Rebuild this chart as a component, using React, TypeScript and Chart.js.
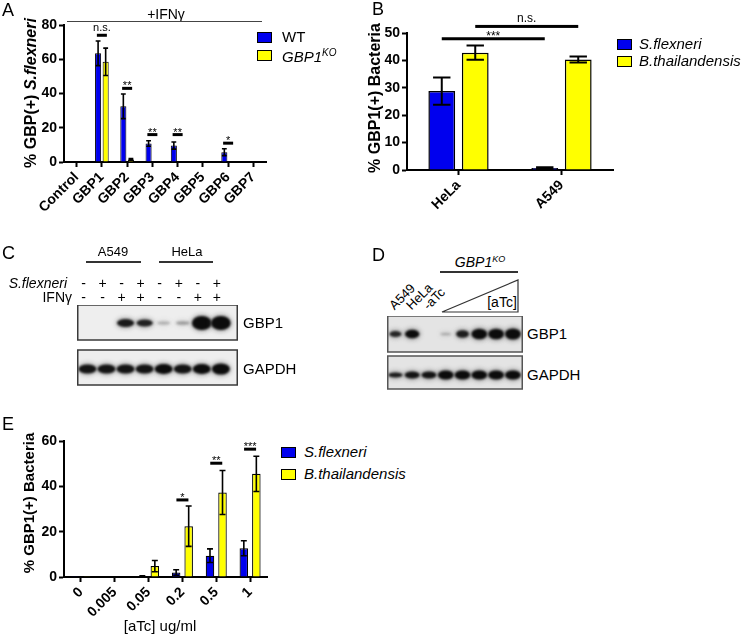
import React, { useEffect, useRef } from 'react';
import { Chart, registerables } from 'chart.js';

Chart.register(...registerables);

const FONT = '"Liberation Sans", Arial, Helvetica, sans-serif';
const BLUE = '#0000ee';
const YELLOW = '#ffff00';

// ---------- Panel A ----------
const A_CATEGORIES = ['Control', 'GBP1', 'GBP2', 'GBP3', 'GBP4', 'GBP5', 'GBP6', 'GBP7'];
const A_WT = [0, 63.5, 32.5, 10.8, 9.6, 0, 5.7, 0];
const A_WT_ERR = [0, 7.2, 7.2, 1.6, 2.1, 0, 2.0, 0];
const A_KO = [0, 58.5, 1.5, 0, 0.3, 0, 0, 0];
const A_KO_ERR = [0, 8, 0.5, 0, 0, 0, 0, 0];
const A_Y_TICKS = [0, 20, 40, 60, 80];
const A_SIG_CATEGORY = ['GBP1', 'GBP2', 'GBP3', 'GBP4', 'GBP6'];
const A_SIG_LEVEL = [74, 43, 16, 16, 11];
const A_SIG_TEXT = ['n.s.', '**', '**', '**', '*'];

// ---------- Panel B ----------
const B_CATEGORIES = ['HeLa', 'A549'];
const B_SFLEX = [28.8, 0.7];
const B_SFLEX_ERR = [5, 0.3];
const B_BTHAI = [42.8, 40.3];
const B_BTHAI_ERR = [2.6, 1.1];
const B_Y_TICKS = [0, 10, 20, 30, 40, 50];
const B_SIG_SERIES = [0, 1];
const B_SIG_FROM = ['HeLa', 'HeLa'];
const B_SIG_TO = ['A549', 'A549'];
const B_SIG_LEVEL = [47.9, 52.4];
const B_SIG_TEXT = ['***', 'n.s.'];

// ---------- Panel C (western blot) ----------
const C_SFLEX_SIGNS = ['-', '+', '-', '+', '-', '+', '-', '+'];
const C_IFN_SIGNS = ['-', '-', '+', '+', '-', '-', '+', '+'];
const C_GBP1_INTENSITY = [0, 0, 0.92, 0.88, 0.22, 0.28, 1, 1];
const C_GBP1_THICKNESS = [0, 0, 8, 7, 3.5, 4, 14, 14];
const C_GBP1_SPREAD = [1, 1, 1, 0.95, 0.75, 0.8, 1.15, 1.15];
const C_GAPDH_INTENSITY = [0.95, 0.95, 0.95, 0.95, 1, 0.95, 1, 1];
const C_GAPDH_THICKNESS = [9, 9, 9, 9, 10, 9, 10, 11];
const C_GAPDH_SPREAD = [1.05, 1.05, 1.05, 1.05, 1.05, 1.05, 1.05, 1.05];

// ---------- Panel D (western blot) ----------
const D_LANE_LABELS = ['A549', 'HeLa', '-aTc'];
const D_GBP1_INTENSITY = [0.85, 1, 0, 0.2, 0.9, 1, 1, 1];
const D_GBP1_THICKNESS = [6, 8.5, 0, 3, 7.5, 10.5, 10.5, 11];
const D_GBP1_SPREAD = [0.8, 0.95, 0, 0.7, 0.85, 1.05, 1.05, 1.05];
const D_GAPDH_INTENSITY = [0.9, 0.95, 0.95, 1, 1, 1, 1, 1];
const D_GAPDH_THICKNESS = [5, 7, 7, 9, 9, 9, 9, 9];
const D_GAPDH_SPREAD = [0.95, 1, 1, 1.05, 1.05, 1.05, 1.05, 1.05];

// ---------- Panel E ----------
const E_CATEGORIES = ['0', '0.005', '0.05', '0.2', '0.5', '1'];
const E_SFLEX = [0.1, 0, 0.3, 2, 9.4, 12.7];
const E_SFLEX_ERR = [0, 0, 0.2, 1.2, 3, 3.3];
const E_BTHAI = [0.1, 0.2, 4.8, 22.4, 37.3, 45.5];
const E_BTHAI_ERR = [0, 0, 2.5, 8.9, 9.7, 7.8];
const E_Y_TICKS = [0, 20, 40, 60];
const E_SIG_CATEGORY = ['0.2', '0.5', '1'];
const E_SIG_LEVEL = [34, 50.2, 56.4];
const E_SIG_TEXT = ['*', '**', '***'];

type Mark = { x1: number; x2: number; y: number; text: string };
type Series = { data: number[]; err: number[]; color: string };
type BarCfg = {
  labels: string[];
  series: Series[];
  yMin: number;
  yMax: number;
  yTicks: number[];
  pad: { left: number; top: number; right: number; bottom: number };
  yWidth: number;
  xHeight: number;
  cp: number;
  bp: number;
  capRatio: number;
  errWidth: number;
  borderWidth: number;
  sigFont: number;
  sigThick: number;
  marks: (chart: any) => Mark[];
};

function makeBarChart(canvas: HTMLCanvasElement, cfg: BarCfg) {
  const overlay = {
    id: 'overlay',
    afterDatasetsDraw(chart: any) {
      const ctx = chart.ctx;
      const ys = chart.scales.y;
      ctx.save();
      ctx.strokeStyle = '#000';
      ctx.lineWidth = cfg.errWidth;
      cfg.series.forEach((s, di) => {
        const meta = chart.getDatasetMeta(di);
        meta.data.forEach((bar: any, i: number) => {
          const e = s.err[i];
          if (!e) return;
          const v = s.data[i];
          const yt = ys.getPixelForValue(v + e);
          const yb = ys.getPixelForValue(Math.max(0, v - e));
          const half = (bar.width * cfg.capRatio) / 2;
          ctx.beginPath();
          ctx.moveTo(bar.x, yt);
          ctx.lineTo(bar.x, yb);
          ctx.moveTo(bar.x - half, yt);
          ctx.lineTo(bar.x + half, yt);
          ctx.moveTo(bar.x - half, yb);
          ctx.lineTo(bar.x + half, yb);
          ctx.stroke();
        });
      });
      ctx.fillStyle = '#000';
      ctx.textAlign = 'center';
      ctx.textBaseline = 'alphabetic';
      cfg.marks(chart).forEach((m) => {
        const t = cfg.sigThick;
        ctx.fillRect(m.x1, m.y - t / 2, m.x2 - m.x1, t);
        const star = m.text.includes('*');
        ctx.font = `${cfg.sigFont}px ${FONT}`;
        ctx.fillText(m.text, (m.x1 + m.x2) / 2, star ? m.y + 1 : m.y - t / 2 - 2.5);
      });
      ctx.restore();
    },
  };
  const tickFont = { family: FONT, size: 14, weight: 'bold' as const };
  return new Chart(canvas, {
    type: 'bar',
    data: {
      labels: cfg.labels,
      datasets: cfg.series.map((s) => ({
        data: s.data,
        backgroundColor: s.color,
        borderColor: '#000',
        borderWidth: cfg.borderWidth,
        categoryPercentage: cfg.cp,
        barPercentage: cfg.bp,
      })),
    },
    options: {
      responsive: false,
      animation: false,
      events: [],
      layout: { padding: cfg.pad },
      plugins: { legend: { display: false }, tooltip: { enabled: false } },
      scales: {
        x: {
          type: 'category',
          offset: true,
          grid: {
            display: true,
            drawOnChartArea: false,
            drawTicks: true,
            tickLength: 5,
            tickWidth: 2,
            tickColor: '#000',
            offset: false,
          },
          border: { display: true, color: '#000', width: 2 },
          ticks: {
            color: '#000',
            font: tickFont,
            minRotation: 45,
            maxRotation: 45,
            autoSkip: false,
            padding: 2,
          },
          afterFit: (s: any) => {
            s.height = cfg.xHeight;
          },
        },
        y: {
          type: 'linear',
          min: cfg.yMin,
          max: cfg.yMax,
          grid: {
            display: true,
            drawOnChartArea: false,
            drawTicks: true,
            tickLength: 5,
            tickWidth: 2,
            tickColor: '#000',
          },
          border: { display: true, color: '#000', width: 2 },
          ticks: { color: '#000', font: tickFont, padding: 2 },
          afterBuildTicks: (s: any) => {
            s.ticks = cfg.yTicks.map((v) => ({ value: v }));
          },
          afterFit: (s: any) => {
            s.width = cfg.yWidth;
          },
        },
      },
    },
    plugins: [overlay],
  } as any);
}

type BlotRow = {
  top: number;
  bottom: number;
  center: number;
  intensity: number[];
  thickness: number[];
  spread: number[];
};
type BlotCfg = { xMin: number; xMax: number; height: number; rows: BlotRow[]; bg: string; border: string };

function makeBlotChart(canvas: HTMLCanvasElement, cfg: BlotCfg) {
  const blot = {
    id: 'blot',
    beforeDatasetsDraw(chart: any) {
      const ctx = chart.ctx;
      const xs = chart.scales.x;
      const ys = chart.scales.y;
      const laneW = xs.getPixelForValue(1) - xs.getPixelForValue(0);
      cfg.rows.forEach((r, ri) => {
        const x0 = chart.chartArea.left + 0.75;
        const x1 = chart.chartArea.right - 0.75;
        const y0 = ys.getPixelForValue(r.top);
        const y1 = ys.getPixelForValue(r.bottom);
        ctx.save();
        ctx.fillStyle = cfg.bg;
        ctx.fillRect(x0, y0, x1 - x0, y1 - y0);
        ctx.beginPath();
        ctx.rect(x0, y0, x1 - x0, y1 - y0);
        ctx.clip();
        const meta = chart.getDatasetMeta(ri);
        meta.data.forEach((pt: any, i: number) => {
          const a = r.intensity[i];
          if (!a) return;
          const rx = laneW * 0.45 * r.spread[i];
          const ry = r.thickness[i] / 2;
          ctx.filter = 'blur(2px)';
          ctx.fillStyle = `rgba(60,60,60,${a * 0.35})`;
          ctx.beginPath();
          ctx.ellipse(pt.x, pt.y, rx + 1.5, ry + 2, 0, 0, Math.PI * 2);
          ctx.fill();
          ctx.filter = 'blur(0.8px)';
          ctx.fillStyle = `rgba(12,12,12,${a})`;
          ctx.beginPath();
          ctx.ellipse(pt.x, pt.y, rx, ry, 0, 0, Math.PI * 2);
          ctx.fill();
        });
        ctx.restore();
        ctx.save();
        ctx.strokeStyle = cfg.border;
        ctx.lineWidth = 1.5;
        ctx.strokeRect(x0, y0, x1 - x0, y1 - y0);
        ctx.restore();
      });
    },
  };
  return new Chart(canvas, {
    type: 'scatter',
    data: {
      datasets: cfg.rows.map((r) => ({
        data: r.intensity.map((_, i) => ({ x: i, y: r.center })),
        pointRadius: 0,
      })),
    },
    options: {
      responsive: false,
      animation: false,
      events: [],
      layout: { padding: 0 },
      plugins: { legend: { display: false }, tooltip: { enabled: false } },
      scales: {
        x: { type: 'linear', display: false, min: cfg.xMin, max: cfg.xMax },
        y: { type: 'linear', display: false, min: 0, max: cfg.height, reverse: true },
      },
    },
    plugins: [blot],
  } as any);
}

function ChartBox({ left, top, width, height, build }: { left: number; top: number; width: number; height: number; build: (c: HTMLCanvasElement) => Chart }) {
  const ref = useRef<HTMLCanvasElement>(null);
  useEffect(() => {
    const chart = build(ref.current as HTMLCanvasElement);
    return () => chart.destroy();
  }, []);
  return (
    <div style={{ position: 'absolute', left, top, width, height }}>
      <canvas ref={ref} width={width} height={height} style={{ width, height, display: 'block' }} />
    </div>
  );
}

function T({ x, y, size = 14, bold = false, italic = false, align = 'center', rotate = 0, children }: any) {
  const tx = align === 'left' ? '0' : align === 'right' ? '-100%' : '-50%';
  const origin = align === 'left' ? '0 50%' : align === 'right' ? '100% 50%' : '50% 50%';
  return (
    <div
      style={{
        position: 'absolute',
        left: x,
        top: y,
        fontSize: size,
        fontWeight: bold ? 'bold' : 'normal',
        fontStyle: italic ? 'italic' : 'normal',
        lineHeight: 1.15,
        whiteSpace: 'nowrap',
        transform: `translate(${tx},-50%)${rotate ? ` rotate(${rotate}deg)` : ''}`,
        transformOrigin: origin,
      }}
    >
      {children}
    </div>
  );
}

function HLine({ x1, x2, y, w = 1.2, color = '#333' }: any) {
  return <div style={{ position: 'absolute', left: x1, top: y - w / 2, width: x2 - x1, height: w, background: color }} />;
}

function Swatch({ x, y, w, h, color }: any) {
  return <div style={{ position: 'absolute', left: x, top: y - h / 2, width: w, height: h, background: color, border: '1.5px solid #000', boxSizing: 'border-box' }} />;
}

const catIndex = (cats: string[], c: string) => cats.indexOf(c);

const buildA = (c: HTMLCanvasElement) =>
  makeBarChart(c, {
    labels: A_CATEGORIES,
    series: [
      { data: A_WT, err: A_WT_ERR, color: BLUE },
      { data: A_KO, err: A_KO_ERR, color: YELLOW },
    ],
    yMin: 0,
    yMax: 80,
    yTicks: A_Y_TICKS,
    pad: { left: 0, top: 25, right: 9, bottom: 0 },
    yWidth: 64,
    xHeight: 83,
    cp: 0.6,
    bp: 0.8,
    capRatio: 0.8,
    errWidth: 1.6,
    borderWidth: 1,
    sigFont: 11,
    sigThick: 3,
    marks: (chart: any) =>
      A_SIG_CATEGORY.map((cat, k) => {
        const cx = chart.scales.x.getPixelForValue(catIndex(A_CATEGORIES, cat));
        return { x1: cx - 5, x2: cx + 5, y: chart.scales.y.getPixelForValue(A_SIG_LEVEL[k]), text: A_SIG_TEXT[k] };
      }),
  });

const buildB = (c: HTMLCanvasElement) =>
  makeBarChart(c, {
    labels: B_CATEGORIES,
    series: [
      { data: B_SFLEX, err: B_SFLEX_ERR, color: BLUE },
      { data: B_BTHAI, err: B_BTHAI_ERR, color: YELLOW },
    ],
    yMin: 0,
    yMax: 50,
    yTicks: B_Y_TICKS,
    pad: { left: 0, top: 33, right: 9, bottom: 0 },
    yWidth: 35,
    xHeight: 45,
    cp: 0.65,
    bp: 0.8,
    capRatio: 0.65,
    errWidth: 2,
    borderWidth: 1.5,
    sigFont: 12,
    sigThick: 3,
    marks: (chart: any) =>
      B_SIG_SERIES.map((si, k) => {
        const meta = chart.getDatasetMeta(si);
        const a = meta.data[catIndex(B_CATEGORIES, B_SIG_FROM[k])].x;
        const b = meta.data[catIndex(B_CATEGORIES, B_SIG_TO[k])].x;
        return { x1: a, x2: b, y: chart.scales.y.getPixelForValue(B_SIG_LEVEL[k]), text: B_SIG_TEXT[k] };
      }),
  });

const buildE = (c: HTMLCanvasElement) =>
  makeBarChart(c, {
    labels: E_CATEGORIES,
    series: [
      { data: E_SFLEX, err: E_SFLEX_ERR, color: BLUE },
      { data: E_BTHAI, err: E_BTHAI_ERR, color: YELLOW },
    ],
    yMin: 0,
    yMax: 60,
    yTicks: E_Y_TICKS,
    pad: { left: 0, top: 21, right: 13, bottom: 0 },
    yWidth: 64,
    xHeight: 58,
    cp: 0.74,
    bp: 0.68,
    capRatio: 0.7,
    errWidth: 1.6,
    borderWidth: 1.2,
    sigFont: 11,
    sigThick: 3,
    marks: (chart: any) =>
      E_SIG_CATEGORY.map((cat, k) => {
        const cx = chart.scales.x.getPixelForValue(catIndex(E_CATEGORIES, cat));
        return { x1: cx - 6, x2: cx + 6, y: chart.scales.y.getPixelForValue(E_SIG_LEVEL[k]), text: E_SIG_TEXT[k] };
      }),
  });

// blot geometry (C)
const C_LEFT = 77;
const C_TOP = 305;
const C_W = 161;
const C_H = 81;
const C_XMIN = -0.55;
const C_XMAX = 7.9;
const cLaneX = (i: number) => C_LEFT + ((i - C_XMIN) * C_W) / (C_XMAX - C_XMIN);

const buildC = (c: HTMLCanvasElement) =>
  makeBlotChart(c, {
    xMin: C_XMIN,
    xMax: C_XMAX,
    height: C_H,
    bg: '#eeeeee',
    border: '#3a3a3a',
    rows: [
      { top: 0, bottom: 35, center: 18, intensity: C_GBP1_INTENSITY, thickness: C_GBP1_THICKNESS, spread: C_GBP1_SPREAD },
      { top: 45, bottom: 80, center: 64, intensity: C_GAPDH_INTENSITY, thickness: C_GAPDH_THICKNESS, spread: C_GAPDH_SPREAD },
    ],
  });

// blot geometry (D)
const D_LEFT = 387;
const D_TOP = 316;
const D_W = 136;
const D_H = 74;
const D_XMIN = -0.5;
const D_XMAX = 7.6;
const dLaneX = (i: number) => D_LEFT + ((i - D_XMIN) * D_W) / (D_XMAX - D_XMIN);

const buildD = (c: HTMLCanvasElement) =>
  makeBlotChart(c, {
    xMin: D_XMIN,
    xMax: D_XMAX,
    height: D_H,
    bg: '#e4e4e4',
    border: '#555555',
    rows: [
      { top: 0, bottom: 36, center: 18, intensity: D_GBP1_INTENSITY, thickness: D_GBP1_THICKNESS, spread: D_GBP1_SPREAD },
      { top: 40, bottom: 73, center: 59, intensity: D_GAPDH_INTENSITY, thickness: D_GAPDH_THICKNESS, spread: D_GAPDH_SPREAD },
    ],
  });

export default function App() {
  return (
    <div
      style={{
        position: 'absolute',
        left: 0,
        top: 0,
        width: 742,
        height: 635,
        background: '#fff',
        overflow: 'hidden',
        fontFamily: FONT,
        color: '#000',
      }}
    >
      {/* Panel A */}
      <ChartBox left={0} top={0} width={275} height={245} build={buildA} />
      <T x={2} y={10} size={18} align="left">A</T>
      <T x={166} y={14} size={14}>+IFNγ</T>
      <HLine x1={67} x2={262} y={21.5} w={1.3} color="#444" />
      <T x={31} y={93} size={16} bold rotate={-90}>
        % GBP(+) <i>S.flexneri</i>
      </T>
      <Swatch x={257} y={37} w={15} h={11} color={BLUE} />
      <T x={282} y={37} size={15} align="left">WT</T>
      <Swatch x={257} y={55} w={15} h={11} color={YELLOW} />
      <T x={282} y={56} size={15} italic align="left">
        GBP1<sup style={{ fontSize: 10 }}>KO</sup>
      </T>

      {/* Panel B */}
      <ChartBox left={372} top={0} width={250} height={215} build={buildB} />
      <T x={372} y={9} size={18} align="left">B</T>
      <T x={375} y={98} size={16} bold rotate={-90}>% GBP1(+) Bacteria</T>
      <Swatch x={617} y={44} w={15} h={11} color={BLUE} />
      <T x={639} y={44} size={15} italic align="left">S.flexneri</T>
      <Swatch x={617} y={61} w={15} h={11} color={YELLOW} />
      <T x={639} y={61} size={15} italic align="left">B.thailandensis</T>

      {/* Panel C */}
      <T x={2} y={253} size={18} align="left">C</T>
      <T x={113} y={252} size={13}>A549</T>
      <HLine x1={86} x2={141} y={262} />
      <T x={187} y={252} size={13}>HeLa</T>
      <HLine x1={159} x2={213} y={262} />
      <T x={67} y={283} size={14} italic align="right">S.flexneri</T>
      <T x={72} y={297} size={14} align="right">IFNγ</T>
      {C_SFLEX_SIGNS.map((s, i) => (
        <T key={'cs' + i} x={cLaneX(i) - 4} y={283} size={14}>{s}</T>
      ))}
      {C_IFN_SIGNS.map((s, i) => (
        <T key={'ci' + i} x={cLaneX(i) - 4} y={297} size={14}>{s}</T>
      ))}
      <ChartBox left={C_LEFT} top={C_TOP} width={C_W} height={C_H} build={buildC} />
      <T x={243} y={323} size={15} align="left">GBP1</T>
      <T x={243} y={369} size={15} align="left">GAPDH</T>

      {/* Panel D */}
      <T x={372} y={255} size={18} align="left">D</T>
      <T x={480} y={262} size={14} italic>
        GBP1<sup style={{ fontSize: 9 }}>KO</sup>
      </T>
      <HLine x1={440} x2={518} y={272} />
      <svg style={{ position: 'absolute', left: 440, top: 278, overflow: 'visible' }} width={82} height={36}>
        <polygon points="2,34 78,2 78,34" fill="none" stroke="#333" strokeWidth={1.2} />
      </svg>
      <T x={502} y={302} size={14}>[aTc]</T>
      {D_LANE_LABELS.map((s, i) => (
        <T key={'dl' + i} x={dLaneX(i) - 3} y={308} size={13} align="left" rotate={-45}>{s}</T>
      ))}
      <ChartBox left={D_LEFT} top={D_TOP} width={D_W} height={D_H} build={buildD} />
      <T x={527} y={334} size={15} align="left">GBP1</T>
      <T x={527} y={375} size={15} align="left">GAPDH</T>

      {/* Panel E */}
      <ChartBox left={0} top={420} width={280} height={215} build={buildE} />
      <T x={2} y={424} size={18} align="left">E</T>
      <T x={29} y={503} size={15} bold rotate={-90}>% GBP1(+) Bacteria</T>
      <Swatch x={281} y={452} w={15} h={11} color={BLUE} />
      <T x={304} y={452} size={15} italic align="left">S.flexneri</T>
      <Swatch x={281} y={474} w={15} h={11} color={YELLOW} />
      <T x={304} y={474} size={15} italic align="left">B.thailandensis</T>
      <T x={160} y={626} size={15}>[aTc] ug/ml</T>
    </div>
  );
}
